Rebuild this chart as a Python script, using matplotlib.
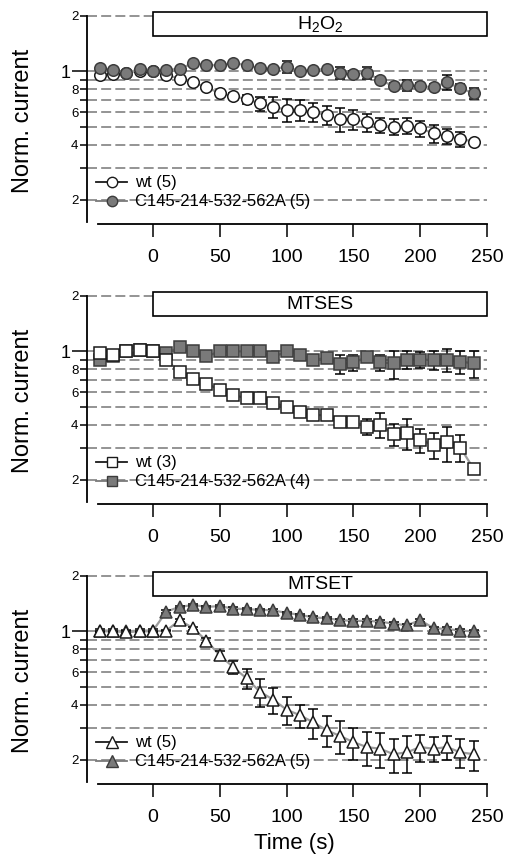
import matplotlib
matplotlib.use("Agg")
import matplotlib.pyplot as plt
from matplotlib.patches import Rectangle

plt.rcParams['font.family'] = ['Liberation Sans', 'DejaVu Sans']
plt.rcParams['mathtext.fontset'] = 'custom'
plt.rcParams['mathtext.rm'] = 'Liberation Sans'
plt.rcParams['mathtext.it'] = 'Liberation Sans:italic'
plt.rcParams['mathtext.default'] = 'regular'

# ---------------- data ----------------
time_s = [-40, -30, -20, -10, 0, 10, 20, 30, 40, 50, 60, 70, 80, 90, 100,
          110, 120, 130, 140, 150, 160, 170, 180, 190, 200, 210, 220, 230, 240]

h2o2_wt = [0.96, 0.97, 0.98, 1.01, 1.00, 0.96, 0.91, 0.87, 0.82, 0.76, 0.735, 0.705,
           0.67, 0.64, 0.62, 0.62, 0.60, 0.58, 0.55, 0.55, 0.53, 0.51, 0.50, 0.505,
           0.49, 0.46, 0.445, 0.43, 0.415]
h2o2_wt_err = [0.01, 0.01, 0.01, 0.01, 0.01, 0.01, 0.01, 0.01, 0.02, 0.02, 0.03, 0.04,
               0.06, 0.085, 0.09, 0.08, 0.07, 0.07, 0.08, 0.07, 0.06, 0.05, 0.05, 0.05,
               0.05, 0.05, 0.04, 0.04, 0.01]
h2o2_mut = [1.04, 1.02, 0.98, 1.03, 1.00, 1.02, 1.03, 1.11, 1.08, 1.08, 1.11, 1.08,
            1.04, 1.03, 1.06, 1.00, 1.02, 1.03, 0.98, 0.97, 0.98, 0.90, 0.83, 0.84,
            0.83, 0.82, 0.87, 0.81, 0.76]
h2o2_mut_err = [0.02, 0.02, 0.02, 0.02, 0.02, 0.02, 0.02, 0.02, 0.02, 0.02, 0.02, 0.02,
                0.02, 0.02, 0.08, 0.02, 0.02, 0.02, 0.07, 0.03, 0.07, 0.03, 0.03, 0.06,
                0.03, 0.03, 0.08, 0.04, 0.05]

mtses_wt = [0.98, 0.96, 1.00, 1.02, 1.00, 0.90, 0.77, 0.705, 0.665, 0.62, 0.58, 0.555,
            0.56, 0.525, 0.50, 0.47, 0.45, 0.45, 0.415, 0.415, 0.39, 0.40, 0.355, 0.36,
            0.33, 0.31, 0.32, 0.30, 0.23]
mtses_wt_err = [0.01, 0.01, 0.01, 0.01, 0.01, 0.01, 0.01, 0.01, 0.01, 0.01, 0.01, 0.01,
                0.01, 0.01, 0.01, 0.01, 0.01, 0.02, 0.015, 0.02, 0.04, 0.06, 0.05, 0.07,
                0.05, 0.05, 0.07, 0.05, 0.0]
mtses_mut = [0.90, 0.94, 1.00, 1.02, 1.00, 0.98, 1.05, 1.00, 0.94, 1.00, 1.00, 1.00,
             1.00, 0.93, 1.00, 0.96, 0.90, 0.92, 0.85, 0.87, 0.93, 0.87, 0.86, 0.90,
             0.90, 0.90, 0.90, 0.88, 0.86]
mtses_mut_err = [0.02, 0.02, 0.02, 0.02, 0.02, 0.02, 0.02, 0.02, 0.02, 0.02, 0.02, 0.02,
                 0.02, 0.02, 0.02, 0.02, 0.02, 0.03, 0.10, 0.09, 0.03, 0.09, 0.15, 0.10,
                 0.09, 0.11, 0.13, 0.13, 0.14]

mtset_wt = [1.00, 1.00, 0.99, 1.00, 1.00, 1.01, 1.15, 1.04, 0.89, 0.74, 0.64, 0.555,
            0.47, 0.425, 0.375, 0.35, 0.32, 0.29, 0.27, 0.25, 0.235, 0.23, 0.215, 0.22,
            0.235, 0.23, 0.235, 0.22, 0.215]
mtset_wt_err = [0.01, 0.01, 0.01, 0.01, 0.01, 0.01, 0.02, 0.02, 0.03, 0.04, 0.05, 0.07,
                0.08, 0.07, 0.065, 0.05, 0.06, 0.055, 0.055, 0.05, 0.05, 0.05, 0.045, 0.05,
                0.04, 0.035, 0.035, 0.04, 0.04]
mtset_mut = [1.01, 1.01, 1.00, 1.01, 1.01, 1.28, 1.36, 1.39, 1.36, 1.37, 1.33, 1.32,
             1.31, 1.30, 1.26, 1.23, 1.19, 1.18, 1.15, 1.14, 1.14, 1.13, 1.10, 1.08,
             1.15, 1.04, 1.03, 1.01, 1.00]
mtset_mut_err = [0.02] * 29

panel_titles = [r'H$_2$O$_2$', 'MTSES', 'MTSET']
wt_labels = ['wt (5)', 'wt (3)', 'wt (5)']
mut_labels = ['C145-214-532-562A (5)', 'C145-214-532-562A (4)', 'C145-214-532-562A (5)']
markers = ['o', 's', '^']

x_ticks = [0, 50, 100, 150, 200, 250]
y_grid = [0.2, 0.3, 0.4, 0.5, 0.6, 0.7, 0.8, 0.9, 1.0, 2.0]
y_minor_ticks = [0.2, 0.3, 0.4, 0.5, 0.6, 0.7, 0.8, 0.9, 2.0]
y_minor_labels = ['2', '', '4', '', '6', '', '8', '', '2']

series = [
    (h2o2_wt, h2o2_wt_err, h2o2_mut, h2o2_mut_err),
    (mtses_wt, mtses_wt_err, mtses_mut, mtses_mut_err),
    (mtset_wt, mtset_wt_err, mtset_mut, mtset_mut_err),
]
wt_on_top = [False, True, True]

# ---------------- figure ----------------
W, H = 507, 857
fig = plt.figure(figsize=(W / 100, H / 100), dpi=100)
offsets = [0, 280, 560]
left_px, right_px = 87, 489.7

GRID_C = '#828282'
LINE_C = '#9c9c9c'
MUT_FC = '#7a7a7a'
MUT_EC = '#3c3c3c'
MS = {'o': 8.3, 's': 8.0, '^': 9.2}

for i, o in enumerate(offsets):
    top_px = o + 10.2
    bot_px = o + 224
    ax = fig.add_axes([left_px / W, 1 - bot_px / H, (right_px - left_px) / W,
                       (bot_px - top_px) / H])
    ax.set_yscale('log')
    ax.set_xlim(-49.4, 252)
    ax.set_ylim(0.148, 2.15)

    for s in ['top', 'right']:
        ax.spines[s].set_visible(False)
    ax.spines['left'].set_bounds(0.152, 2.0)
    ax.spines['bottom'].set_bounds(-41, 250)
    for s in ['left', 'bottom']:
        ax.spines[s].set_linewidth(1.3)

    ax.set_xticks(x_ticks)
    ax.set_xticklabels([str(v) for v in x_ticks])
    ax.set_yticks([1.0], labels=['1'])
    ax.set_yticks(y_minor_ticks, labels=y_minor_labels, minor=True)
    ax.tick_params(axis='x', which='major', direction='out', length=9.4, width=1.1,
                   pad=8.5, labelsize=14)
    ax.tick_params(axis='x', which='minor', bottom=False)
    ax.tick_params(axis='y', which='major', direction='out', length=10.5, width=1.1,
                   pad=1.2, labelsize=13)
    ax.tick_params(axis='y', which='minor', direction='out', length=5.2, width=1.1,
                   pad=1.0, labelsize=9.5)

    # dashed grid
    for gv in y_grid:
        ax.plot([-49.4, 250], [gv, gv], color=GRID_C, lw=1.2,
                linestyle=(0, (6, 2.5)), zorder=1)

    wt, wt_err, mut, mut_err = series[i]
    m = markers[i]
    ms = MS[m]

    def draw_wt(z):
        ax.plot(time_s, wt, '-', color=LINE_C, lw=1.6, zorder=z)
        ax.errorbar(time_s, wt, yerr=wt_err, fmt='none', ecolor='black',
                    elinewidth=1.1, capsize=3.4, capthick=1.1, zorder=z + 0.1)
        ax.plot(time_s, wt, ls='none', marker=m, ms=ms, mfc='white', mec='#1a1a1a',
                mew=1.1, zorder=z + 0.2)

    def draw_mut(z):
        ax.plot(time_s, mut, '-', color=LINE_C, lw=1.6, zorder=z)
        ax.errorbar(time_s, mut, yerr=mut_err, fmt='none', ecolor='black',
                    elinewidth=1.1, capsize=3.4, capthick=1.1, zorder=z + 0.1)
        ax.plot(time_s, mut, ls='none', marker=m, ms=ms, mfc=MUT_FC, mec=MUT_EC,
                mew=1.1, zorder=z + 0.2)

    if wt_on_top[i]:
        draw_mut(2)
        draw_wt(3)
    else:
        draw_wt(2)
        draw_mut(3)

    # treatment bar
    ax.add_patch(Rectangle((0, 1.557), 250, 2.10 - 1.557, facecolor='white',
                           edgecolor='black', lw=1.2, zorder=5, clip_on=False))
    ax.text(125, (1.557 * 2.10) ** 0.5, panel_titles[i], ha='center', va='center',
            fontsize=14, zorder=6)

    # legend (manual, lower-left)
    for yrow, lab, fc, ec, lc in [(0.25, wt_labels[i], 'white', '#1a1a1a', '#1a1a1a'),
                                  (0.197, mut_labels[i], MUT_FC, MUT_EC, '#7a7a7a')]:
        ax.plot([-42.7, -19.5], [yrow, yrow], color=lc, lw=1.3, zorder=6)
        ax.plot([-31], [yrow], ls='none', marker=m, ms=ms * 0.9, mfc=fc, mec=ec,
                mew=1.0, zorder=7)
        ax.text(-13.5, yrow, lab, ha='left', va='center', fontsize=12, zorder=7)

    ax.set_ylabel('Norm. current', fontsize=17)
    ax.yaxis.label.set_va('center')
    ax.yaxis.set_label_coords(-0.159, 0.482)

    if i == 2:
        ax.set_xlabel('Time (s)', fontsize=16)
        ax.xaxis.label.set_va('center')
        ax.xaxis.set_label_coords(0.516, -0.276)

fig.savefig('out.png', dpi=100)
